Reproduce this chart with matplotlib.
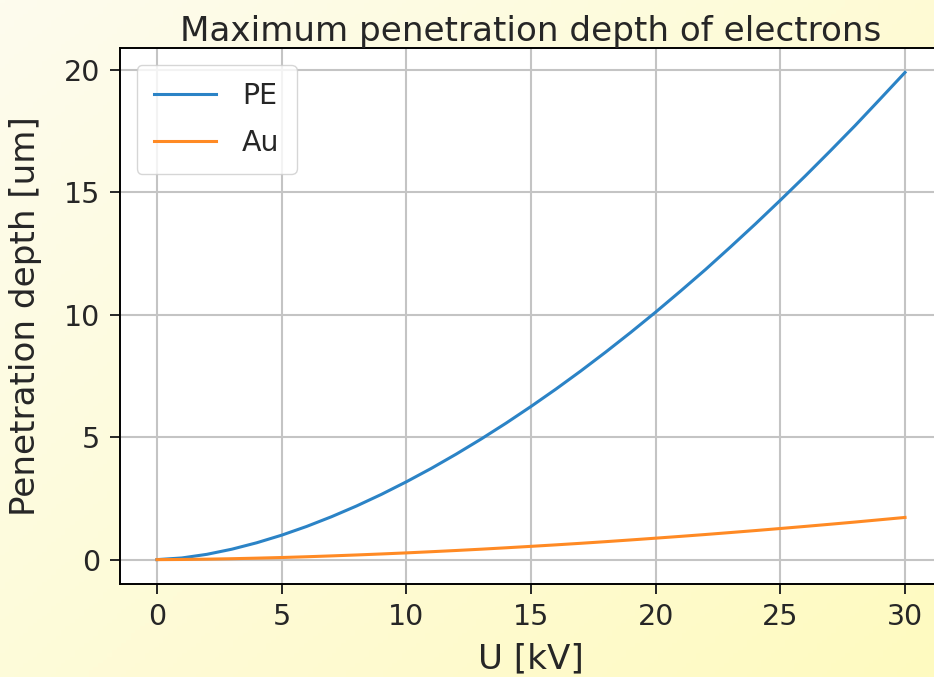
import numpy as np
import matplotlib
matplotlib.use("Agg")
import matplotlib.pyplot as plt

# accelerating voltage [kV]
voltage = [0, 1, 2, 3, 4, 5, 6, 7, 8, 9, 10, 11, 12, 13, 14, 15,
           16, 17, 18, 19, 20, 21, 22, 23, 24, 25, 26, 27, 28, 29, 30]
# penetration depth [um]
depth_pe = [0.0, 0.068, 0.216, 0.425, 0.688, 0.998, 1.354, 1.752, 2.189, 2.664,
            3.178, 3.725, 4.309, 4.925, 5.574, 6.255, 6.965, 7.707, 8.480, 9.281,
            10.11, 10.97, 11.85, 12.77, 13.71, 14.68, 15.67, 16.69, 17.73, 18.81, 19.9]
depth_au = [0.0, 0.006, 0.019, 0.037, 0.060, 0.086, 0.117, 0.152, 0.190, 0.231,
            0.275, 0.323, 0.373, 0.426, 0.483, 0.542, 0.603, 0.667, 0.734, 0.804,
            0.876, 0.950, 1.026, 1.106, 1.187, 1.271, 1.357, 1.445, 1.535, 1.629, 1.723]
y_ticks = [0, 5, 10, 15, 20]

s = 1.97  # scale of everything vs. default sizes
plt.rcParams.update({
    "font.size": 20.5,
    "axes.titlesize": 24.6,
    "axes.labelsize": 24.6,
    "legend.fontsize": 20.5,
    "axes.linewidth": 1.4,
    "xtick.major.size": 3.5 * s,
    "ytick.major.size": 3.5 * s,
    "xtick.major.width": 1.4,
    "ytick.major.width": 1.4,
    "xtick.major.pad": 3.5 * s,
    "ytick.major.pad": 3.5 * s,
    "grid.linewidth": 1.5,
    "grid.color": "#c4c4c4",
    "lines.linewidth": 2.2,
    "text.color": "#262626",
    "xtick.color": "#262626",
    "ytick.color": "#262626",
    "axes.labelcolor": "#262626",
})

fig = plt.figure(figsize=(9.34, 6.77), dpi=100)

# pale yellow gradient behind the chart
bg = fig.add_axes([0, 0, 1, 1], zorder=-10)
yy, xx = np.mgrid[0:1:200j, 0:1:200j]
t = (0.55 * xx + 0.45 * yy)
c0 = np.array([253, 252, 238]) / 255
c1 = np.array([255, 250, 192]) / 255
img = c0[None, None, :] * (1 - t[..., None]) + c1[None, None, :] * t[..., None]
bg.imshow(img, aspect="auto", extent=[0, 1, 0, 1], origin="upper")
bg.axis("off")

ax = fig.add_axes([0.128, 0.1374, 0.881, 0.7916])
ax.plot(voltage, depth_pe, label="PE", color="#2b83c6")
ax.plot(voltage, depth_au, label="Au", color="#ff8a24")
ax.set_yticks(y_ticks)
ax.set_title("Maximum penetration depth of electrons", pad=5)
ax.set_xlabel("U [kV]", labelpad=8)
ax.set_ylabel("Penetration depth [um]", labelpad=16)
ax.grid(True)
ax.legend(loc="upper left", borderpad=0.6, labelspacing=0.65,
          handlelength=2.2, handletextpad=0.9, borderaxespad=0.6)

fig.savefig("out.png", dpi=100)
